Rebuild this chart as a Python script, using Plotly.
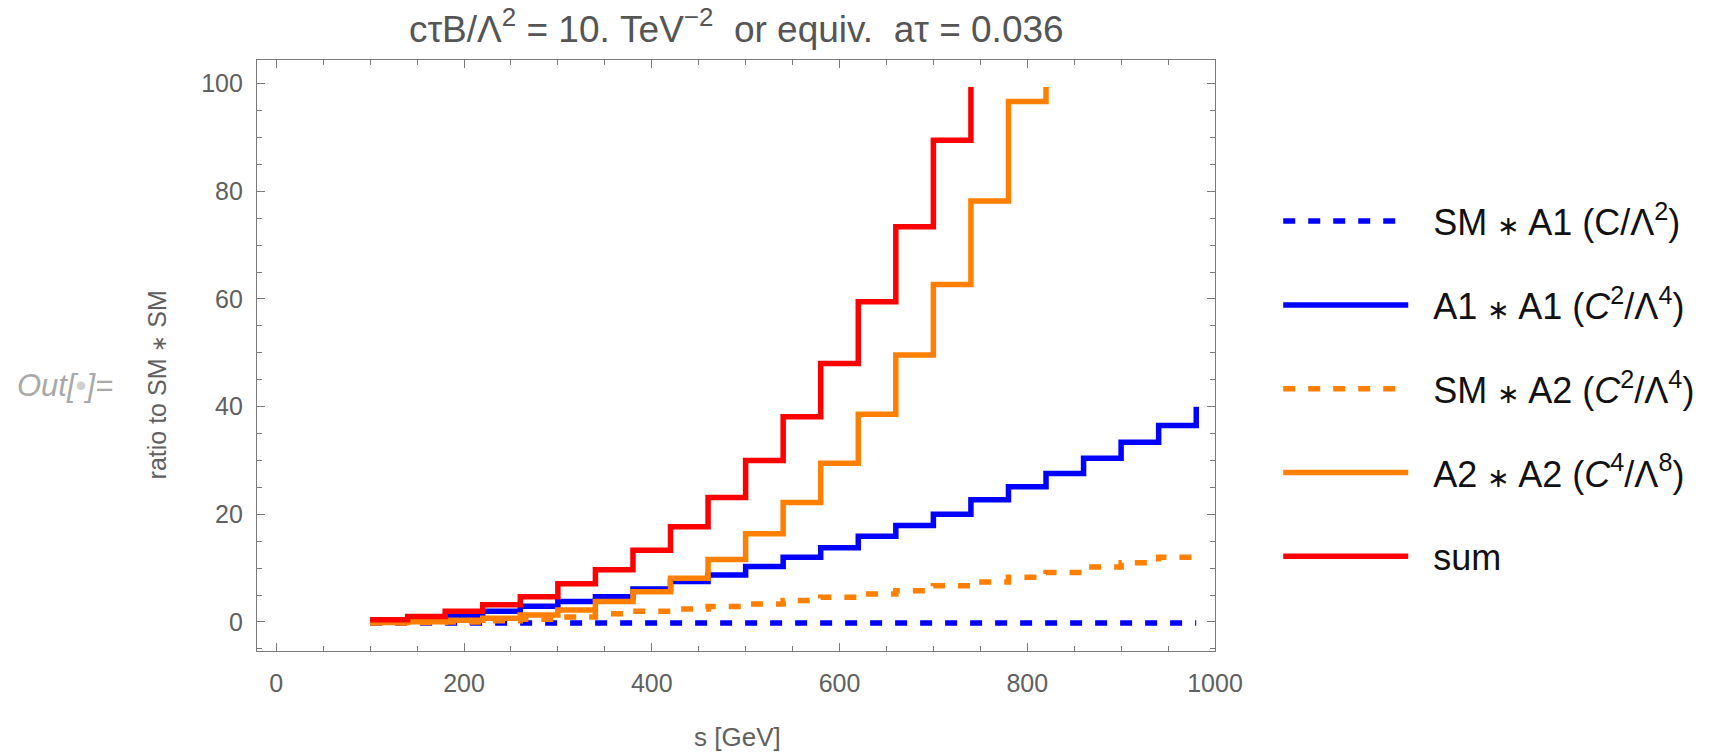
import plotly.graph_objects as go

# ---- data ----
s_edges = [100, 140, 180, 220, 260, 300, 340, 380, 420, 460, 500, 540,
           580, 620, 660, 700, 740, 780, 820, 860, 900, 940, 980]

sm_a1 = [-0.2] * 23
a1_a1 = [0.25, 0.5, 1.1, 2.0, 2.9, 3.8, 4.7, 6.1, 7.5, 8.7, 10.3, 12.0,
         13.8, 15.9, 17.9, 20.0, 22.7, 25.1, 27.6, 30.4, 33.4, 36.5, 40.0]
sm_a2 = [-0.2, -0.1, 0.0, 0.2, 0.5, 0.9, 1.5, 2.0, 2.4, 2.85, 3.35, 3.96,
         4.58, 5.2, 5.8, 6.7, 7.4, 8.3, 9.2, 10.2, 11.0, 12.0, 12.8]
a2_a2 = [-0.1, 0.05, 0.3, 0.7, 1.3, 2.2, 3.8, 5.6, 8.1, 11.6, 16.4, 22.2,
         29.5, 38.6, 49.6, 62.7, 78.2, 96.7, 99.4]
total = [0.4, 1.0, 2.0, 3.2, 4.7, 7.1, 9.7, 13.3, 17.7, 23.1, 30.0, 38.1,
         48.0, 59.5, 73.4, 89.5, 99.4]

STAR = "<span style='font-size:27px'>∗</span>"
series = [
    (f"SM {STAR} A1 (C/Λ<sup>2</sup>)", sm_a1, "#0000FF", "12px,13px"),
    (f"A1 {STAR} A1 (<i>C</i><sup>2</sup>/Λ<sup>4</sup>)", a1_a1, "#0000FF", "solid"),
    (f"SM {STAR} A2 (<i>C</i><sup>2</sup>/Λ<sup>4</sup>)", sm_a2, "#FF8000", "12px,13px"),
    (f"A2 {STAR} A2 (<i>C</i><sup>4</sup>/Λ<sup>8</sup>)", a2_a2, "#FF8000", "solid"),
    ("sum", total, "#FF0000", "solid"),
]

x_ticks = [0, 200, 400, 600, 800, 1000]
y_ticks = [0, 20, 40, 60, 80, 100]

fig = go.Figure()
for i, (name, vals, color, dash) in enumerate(series):
    fig.add_trace(go.Scatter(
        x=s_edges[:len(vals)], y=vals, mode="lines", name="\u00a0\u00a0" + name,
        line=dict(color=color, width=5.5, dash=dash, shape="hv"),
        legendgroup=f"g{i}",
    ))

axis_col = "#7a7a7a"
font_fam = "Liberation Sans, Arial, sans-serif"
tick_font = dict(family=font_fam, size=25, color="#606060")

fig.update_xaxes(
    range=[-20.5, 1000], tickvals=x_ticks, ticks="inside", ticklen=8, tickwidth=1.3,
    tickcolor=axis_col, showline=True, linecolor=axis_col, linewidth=1.3,
    mirror="ticks", showgrid=False, zeroline=False, tickfont=tick_font,
    ticklabelstandoff=10,
    minor=dict(ticks="inside", dtick=50, ticklen=4.5, tickcolor=axis_col, showgrid=False),
)
fig.update_yaxes(
    range=[-5.4, 104.4], tickvals=y_ticks, ticks="inside", ticklen=8, tickwidth=1.3,
    tickcolor=axis_col, showline=True, linecolor=axis_col, linewidth=1.3,
    mirror="ticks", showgrid=False, zeroline=False, tickfont=tick_font,
    ticklabelstandoff=8,
    minor=dict(ticks="inside", dtick=5, ticklen=4.5, tickcolor=axis_col, showgrid=False),
)

fig.update_layout(
    width=1717, height=755,
    margin=dict(l=257, r=502, t=60, b=104),
    plot_bgcolor="white", paper_bgcolor="white",
    font=dict(family=font_fam, color="#000"),
    showlegend=True,
    legend=dict(
        x=1.066, y=0.778, xanchor="left", yanchor="top",
        font=dict(size=36, color="#111"),
        itemwidth=125, tracegroupgap=34, bgcolor="rgba(0,0,0,0)",
    ),
    annotations=[
        dict(text="cτB/Λ<sup>2</sup> = 10. TeV<sup>−2</sup>  or equiv.  aτ = 0.036",
             xref="paper", yref="paper", x=0.5, y=1.013, xanchor="center", yanchor="bottom",
             showarrow=False, font=dict(size=37, color="#555555")),
        dict(text="s [GeV]", xref="paper", yref="paper", x=0.502, y=-0.1455,
             xanchor="center", yanchor="middle", showarrow=False,
             font=dict(size=26, color="#606060")),
        dict(text="ratio to SM <span style='font-size:20px'>∗</span> SM",
             xref="paper", yref="paper", x=-0.104, y=0.45,
             xanchor="center", yanchor="middle", textangle=-90, showarrow=False,
             font=dict(size=25, color="#606060")),
        dict(text="<i>Out[</i><span style='color:#d0d0d0'>•</span><i>]=</i>",
             xref="paper", yref="paper", x=-0.2526, y=0.45,
             xanchor="left", yanchor="middle", showarrow=False,
             font=dict(size=31, color="#a8a8a8")),
    ],
)

fig.write_html("out.html")
